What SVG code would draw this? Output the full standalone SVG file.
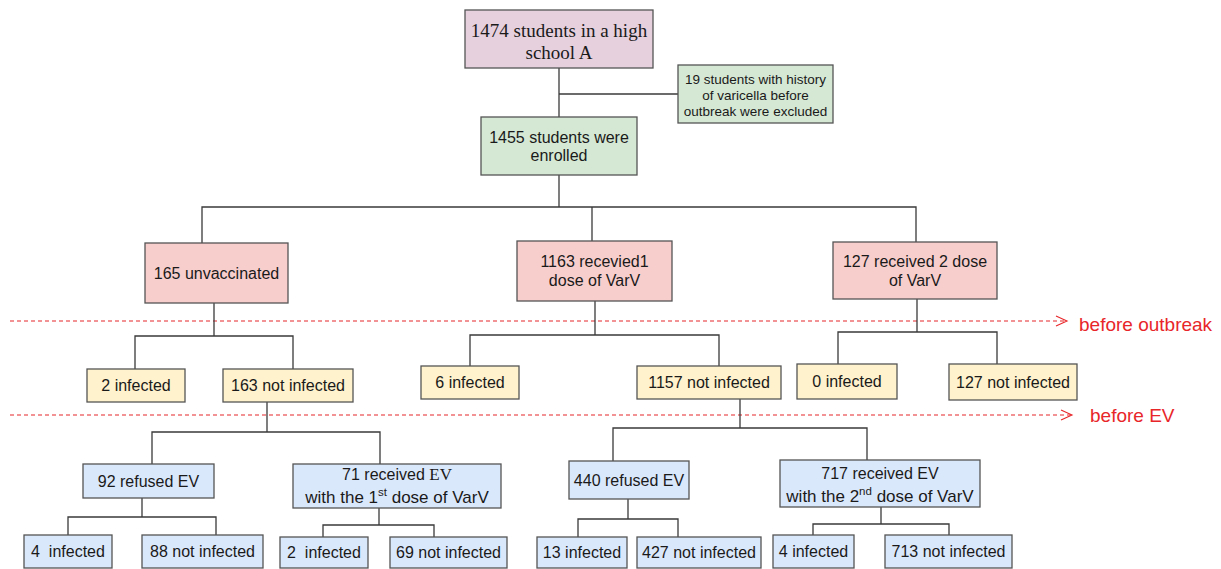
<svg xmlns="http://www.w3.org/2000/svg" width="1221" height="569" viewBox="0 0 1221 569">
<defs>
<style>
.box{stroke:#555555;stroke-width:1.3}
.pu{fill:#e6d0de}.gr{fill:#d5e8d4}.pk{fill:#f8cecc}.ye{fill:#fff2cc}.bl{fill:#dae8fc}
text{font-family:"Liberation Sans",Arial,sans-serif;font-size:16px;fill:#1a1a1a;text-anchor:middle;dominant-baseline:central;white-space:pre}
.serif{font-family:"Liberation Serif","Times New Roman",serif}
.small{font-size:13.5px}
.l2{font-size:17px}
.sup{font-size:11.5px}
.red{fill:#e8262a;font-size:19px;text-anchor:start}
.conn line, .conn polyline{stroke:#3a3a3a;stroke-width:1.3;fill:none}
.dash{stroke:#e8262a;stroke-width:1.1;stroke-dasharray:4 3;fill:none}
</style>
<marker id="arr" markerWidth="14" markerHeight="12" refX="12" refY="6" orient="auto" markerUnits="userSpaceOnUse">
<polyline points="1,1 12,6 1,11" fill="none" stroke="#e8262a" stroke-width="1.1"/>
</marker>
</defs>
<rect width="1221" height="569" fill="#ffffff"/>

<g id="timelines">
<line class="dash" x1="10" y1="321" x2="1067" y2="321" marker-end="url(#arr)"/>
<text class="red" x="1079" y="324">before outbreak</text>
<line class="dash" x1="10" y1="415" x2="1072" y2="415" marker-end="url(#arr)"/>
<text class="red" x="1090" y="415">before EV</text>
</g>

<g class="conn" id="connectors">
<line x1="559" y1="68" x2="559" y2="117"/>
<line x1="559" y1="94" x2="678" y2="94"/>
<line x1="559" y1="175" x2="559" y2="207"/>
<polyline points="202,243 202,207 916,207 916,242"/>
<line x1="592" y1="207" x2="592" y2="241"/>
<line x1="214" y1="303" x2="214" y2="336"/>
<polyline points="135,369 135,336 293,336 293,369"/>
<line x1="595" y1="301" x2="595" y2="335"/>
<polyline points="470,366 470,335 719,335 719,366"/>
<line x1="917" y1="299" x2="917" y2="332"/>
<polyline points="838,364 838,332 997,332 997,364"/>
<line x1="267" y1="402" x2="267" y2="432"/>
<polyline points="152,464 152,432 380,432 380,464"/>
<line x1="740" y1="399" x2="740" y2="428"/>
<polyline points="613,461 613,428 867,428 867,460"/>
<line x1="142" y1="498" x2="142" y2="517"/>
<polyline points="68,535 68,517 216,517 216,535"/>
<line x1="379" y1="508" x2="379" y2="525"/>
<polyline points="323,537 323,525 434,525 434,537"/>
<line x1="628" y1="499" x2="628" y2="519"/>
<polyline points="578,537 578,519 678,519 678,537"/>
<line x1="881" y1="507" x2="881" y2="524"/>
<polyline points="813,535 813,524 949,524 949,535"/>
</g>

<g id="n-school"><rect class="box pu" x="465" y="10" width="188" height="58"/>
<text class="serif" style="font-size:19px" x="559" y="30">1474 students in a high</text>
<text class="serif" style="font-size:19px" x="559" y="52">school A</text></g>

<g id="n-excluded"><rect class="box gr" x="678" y="65" width="155" height="58"/>
<text class="small" x="755.5" y="79">19 students with history</text>
<text class="small" x="755.5" y="95">of varicella before</text>
<text class="small" x="755.5" y="111">outbreak were excluded</text></g>

<g id="n-enrolled"><rect class="box gr" x="481" y="117" width="156" height="58"/>
<text x="559" y="137">1455 students were</text>
<text x="559" y="155">enrolled</text></g>

<g id="n-unvacc"><rect class="box pk" x="145" y="243" width="143" height="60"/>
<text x="216.5" y="273">165 unvaccinated</text></g>

<g id="n-1dose"><rect class="box pk" x="517" y="241" width="155" height="60"/>
<text x="594.5" y="261">1163 recevied1</text>
<text x="594.5" y="280">dose of VarV</text></g>

<g id="n-2dose"><rect class="box pk" x="833" y="242" width="164" height="57"/>
<text x="915" y="261">127 received 2 dose</text>
<text x="915" y="280">of VarV</text></g>

<g id="n-u-inf"><rect class="box ye" x="87" y="369" width="98" height="33"/>
<text x="136" y="385.5">2 infected</text></g>
<g id="n-u-notinf"><rect class="box ye" x="223" y="369" width="130" height="33"/>
<text x="288" y="385.5">163 not infected</text></g>
<g id="n-1-inf"><rect class="box ye" x="421" y="366" width="98" height="33"/>
<text x="470" y="382.5">6 infected</text></g>
<g id="n-1-notinf"><rect class="box ye" x="637" y="366" width="144" height="33"/>
<text x="709" y="382.5">1157 not infected</text></g>
<g id="n-2-inf"><rect class="box ye" x="797" y="364" width="100" height="35"/>
<text x="847" y="381.5">0 infected</text></g>
<g id="n-2-notinf"><rect class="box ye" x="949" y="364" width="128" height="36"/>
<text x="1013" y="382">127 not infected</text></g>

<g id="n-92"><rect class="box bl" x="83" y="464" width="131" height="34"/>
<text x="148.5" y="481">92 refused EV</text></g>
<g id="n-71"><rect class="box bl" x="293" y="464" width="208" height="44"/>
<text x="397" y="474">71 received <tspan class="serif" style="font-size:17px">EV</tspan></text>
<text class="l2" x="397" y="497">with the 1<tspan class="sup" dy="-5">st</tspan><tspan dy="5"> dose of VarV</tspan></text></g>
<g id="n-440"><rect class="box bl" x="569" y="461" width="120" height="38"/>
<text x="629" y="480">440 refused EV</text></g>
<g id="n-717"><rect class="box bl" x="780" y="460" width="200" height="47"/>
<text x="880" y="473">717 received EV</text>
<text class="l2" x="880" y="496">with the 2<tspan class="sup" dy="-5">nd</tspan><tspan dy="5"> dose of VarV</tspan></text></g>

<g id="n-92-inf"><rect class="box bl" x="24" y="535" width="88" height="33"/>
<text x="68" y="551.5">4  infected</text></g>
<g id="n-92-notinf"><rect class="box bl" x="142" y="535" width="121" height="33"/>
<text x="202.5" y="551.5">88 not infected</text></g>
<g id="n-71-inf"><rect class="box bl" x="280" y="537" width="88" height="31"/>
<text x="324" y="552.5">2  infected</text></g>
<g id="n-71-notinf"><rect class="box bl" x="390" y="537" width="117" height="31"/>
<text x="448.5" y="552.5">69 not infected</text></g>
<g id="n-440-inf"><rect class="box bl" x="537" y="537" width="90" height="31"/>
<text x="582" y="552.5">13 infected</text></g>
<g id="n-440-notinf"><rect class="box bl" x="637" y="537" width="124" height="31"/>
<text x="699" y="552.5">427 not infected</text></g>
<g id="n-717-inf"><rect class="box bl" x="773" y="535" width="81" height="33"/>
<text x="813.5" y="551">4 infected</text></g>
<g id="n-717-notinf"><rect class="box bl" x="885" y="535" width="127" height="33"/>
<text x="948.5" y="551.5">713 not infected</text></g>
</svg>
